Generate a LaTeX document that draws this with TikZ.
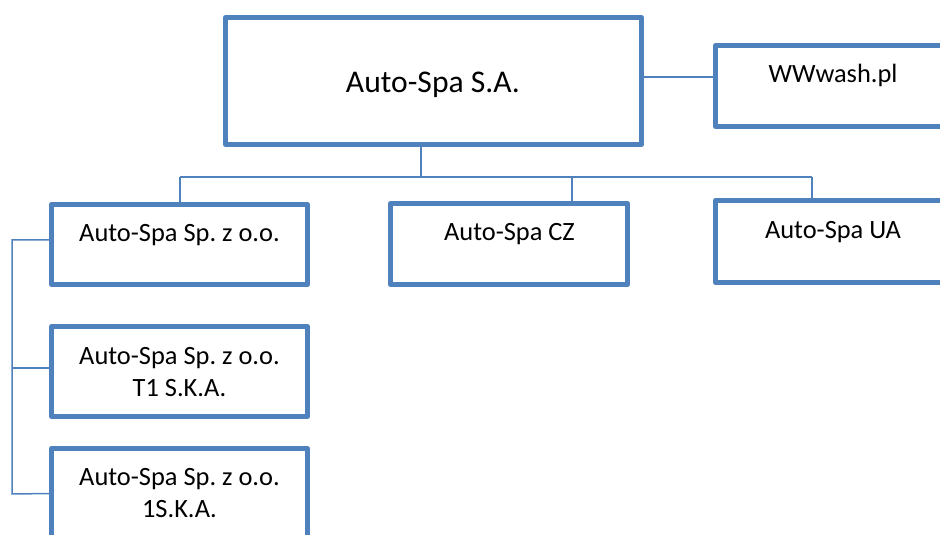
\documentclass[tikz,border=0pt]{standalone}
\usepackage{fontspec}
\setmainfont{Carlito}
\frenchspacing
\definecolor{boxblue}{HTML}{4F81BD}
\tikzset{
  orgbox/.style={draw=boxblue, line width=5pt, line join=round, fill=white, rectangle, inner sep=0pt, outer sep=0pt},
  conn/.style={draw=boxblue, line width=1.5pt},
  smalltxt/.style={anchor=base, inner sep=0pt, font=\fontsize{26.4pt}{32pt}\selectfont},
  bigtxt/.style={anchor=base, inner sep=0pt, font=\fontsize{31.6pt}{38pt}\selectfont}
}
\begin{document}
\begin{tikzpicture}[x=1pt,y=1pt]
\useasboundingbox (0,0) rectangle (940,535);
\clip (0,0) rectangle (940,535);
% boxes
\node[orgbox, minimum width=416pt, minimum height=127pt] (top) at (433.5,454) {};
\node[orgbox, minimum width=237pt, minimum height=81pt] (ww) at (834,449) {};
\node[orgbox, minimum width=256pt, minimum height=80pt] (sp1) at (179.5,290.5) {};
\node[orgbox, minimum width=237pt, minimum height=81pt] (cz) at (509,291) {};
\node[orgbox, minimum width=237pt, minimum height=82pt] (ua) at (834,293.5) {};
\node[orgbox, minimum width=256pt, minimum height=90pt] (sp2) at (179.5,163.5) {};
\node[orgbox, minimum width=256pt, minimum height=90pt] (sp3) at (179.5,41.5) {};
% connectors
\coordinate (j) at (421,358);
\coordinate (busL) at (180,358);
\coordinate (busR) at (812,358);
\coordinate (busC) at (572,358);
\coordinate (rail) at (12,41);
\draw[conn] (top.south -| j) -- (j);
\draw[conn] (busL) -- (busR);
\draw[conn] (busL) -- (busL |- sp1.north);
\draw[conn] (busC) -- (busC |- cz.north);
\draw[conn] (busR) -- (busR |- ua.north);
\draw[conn] ([yshift=4pt]top.east) -- ([yshift=9pt]ww.west);
\draw[conn] ([yshift=4.5pt]sp1.west) -| (rail) -- (sp3.west);
\draw[conn] ([yshift=3.5pt]sp2.west) -- ([yshift=3.5pt]sp2.west -| rail);
% texts
\node[bigtxt] (ttop) at (433,442.5) {Auto-Spa S.A.};
\node[smalltxt] (tww) at (833,452) {WWwash.pl};
\node[smalltxt] (tsp1) at (179.5,293) {Auto-Spa Sp. z o.o.};
\node[smalltxt] (tcz) at (509.5,294) {Auto-Spa CZ};
\node[smalltxt] (tua) at (833,296) {Auto-Spa UA};
\node[smalltxt] (tsp2a) at (179.5,170) {Auto-Spa Sp. z o.o.};
\node[smalltxt] (tsp2b) at (179.5,138) {T1 S.K.A.};
\node[smalltxt] (tsp3a) at (179.5,49) {Auto-Spa Sp. z o.o.};
\node[smalltxt] (tsp3b) at (179.5,17) {1S.K.A.};
\end{tikzpicture}
\end{document}
